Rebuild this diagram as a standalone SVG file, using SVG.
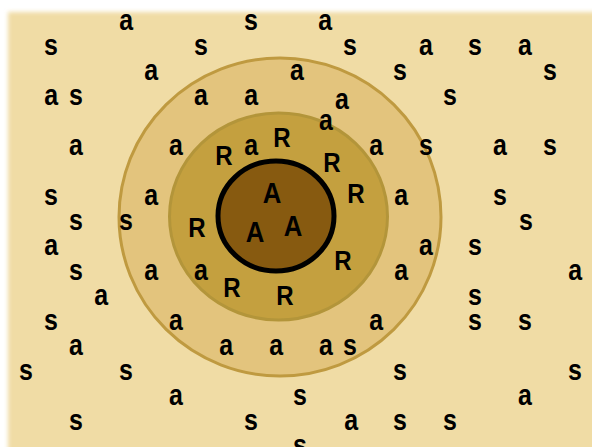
<svg xmlns="http://www.w3.org/2000/svg" width="592" height="447" viewBox="0 0 592 447">
<defs>
<filter id="soft" x="-5%" y="-5%" width="110%" height="110%"><feGaussianBlur stdDeviation="2"/></filter>
<style>
.t{font-family:"Liberation Sans",Arial,sans-serif;font-weight:bold;font-size:29px;fill:#000;text-anchor:middle;transform:scaleX(0.86);transform-box:fill-box;transform-origin:center}
.R{font-size:28px}
.A{font-size:30px}
</style>
</defs>
<rect x="0" y="0" width="592" height="447" fill="#ffffff"/>
<rect x="8" y="12" width="600" height="450" fill="#f0dca5" filter="url(#soft)"/>
<g id="outer-zone">
<ellipse cx="280" cy="217" rx="161" ry="159" fill="#e3c47d" stroke="#bf9a40" stroke-width="3"/>
</g>
<g id="middle-zone">
<ellipse cx="278.5" cy="216.5" rx="109" ry="103.5" fill="#c4a03f" stroke="#b3953a" stroke-width="3"/>
</g>
<g id="inner-zone">
<ellipse cx="276" cy="216" rx="58" ry="55" fill="#875a10" stroke="#000" stroke-width="5"/>
</g>
<g id="letters-s">
<text class="t" x="251" y="30">s</text>
<text class="t" x="51" y="55">s</text><text class="t" x="201" y="55">s</text><text class="t" x="350" y="55">s</text><text class="t" x="475" y="55">s</text>
<text class="t" x="400" y="80">s</text><text class="t" x="550" y="80">s</text>
<text class="t" x="76" y="105">s</text><text class="t" x="450" y="105">s</text>
<text class="t" x="426" y="155">s</text><text class="t" x="550" y="155">s</text>
<text class="t" x="51" y="205">s</text><text class="t" x="500" y="205">s</text>
<text class="t" x="76" y="230">s</text><text class="t" x="126" y="230">s</text><text class="t" x="526" y="230">s</text>
<text class="t" x="475" y="255">s</text>
<text class="t" x="76" y="280">s</text>
<text class="t" x="475" y="305">s</text>
<text class="t" x="51" y="330">s</text><text class="t" x="475" y="330">s</text><text class="t" x="525" y="330">s</text>
<text class="t" x="350" y="355">s</text>
<text class="t" x="26" y="380">s</text><text class="t" x="126" y="380">s</text><text class="t" x="400" y="380">s</text><text class="t" x="575" y="380">s</text>
<text class="t" x="300" y="405">s</text>
<text class="t" x="76" y="430">s</text><text class="t" x="251" y="430">s</text><text class="t" x="400" y="430">s</text><text class="t" x="450" y="430">s</text>
<text class="t" x="300" y="455">s</text>
</g>
<g id="letters-a">
<text class="t" x="126" y="30">a</text><text class="t" x="325" y="30">a</text>
<text class="t" x="426" y="55">a</text><text class="t" x="525" y="55">a</text>
<text class="t" x="151" y="80">a</text><text class="t" x="297" y="80">a</text>
<text class="t" x="51" y="105">a</text><text class="t" x="201" y="105">a</text><text class="t" x="251" y="105">a</text><text class="t" x="342" y="109">a</text>
<text class="t" x="326" y="130">a</text>
<text class="t" x="76" y="155">a</text><text class="t" x="176" y="155">a</text><text class="t" x="251" y="155">a</text><text class="t" x="376" y="155">a</text><text class="t" x="500" y="155">a</text>
<text class="t" x="151" y="205">a</text><text class="t" x="401" y="205">a</text>
<text class="t" x="51" y="255">a</text><text class="t" x="426" y="255">a</text>
<text class="t" x="151" y="280">a</text><text class="t" x="201" y="280">a</text><text class="t" x="401" y="280">a</text><text class="t" x="575" y="280">a</text>
<text class="t" x="101" y="305">a</text>
<text class="t" x="176" y="330">a</text><text class="t" x="376" y="330">a</text>
<text class="t" x="76" y="355">a</text><text class="t" x="226" y="355">a</text><text class="t" x="276" y="355">a</text><text class="t" x="326" y="355">a</text>
<text class="t" x="176" y="405">a</text><text class="t" x="525" y="405">a</text>
<text class="t" x="351" y="430">a</text>
</g>
<g id="letters-R">
<text class="t R" x="282" y="147">R</text>
<text class="t R" x="224" y="165">R</text>
<text class="t R" x="332" y="172">R</text>
<text class="t R" x="356" y="203">R</text>
<text class="t R" x="197" y="237">R</text>
<text class="t R" x="343" y="270">R</text>
<text class="t R" x="232" y="297">R</text>
<text class="t R" x="285" y="305">R</text>
</g>
<g id="letters-A">
<text class="t A" x="272" y="203">A</text>
<text class="t A" x="255" y="242">A</text>
<text class="t A" x="293" y="236">A</text>
</g>
</svg>
